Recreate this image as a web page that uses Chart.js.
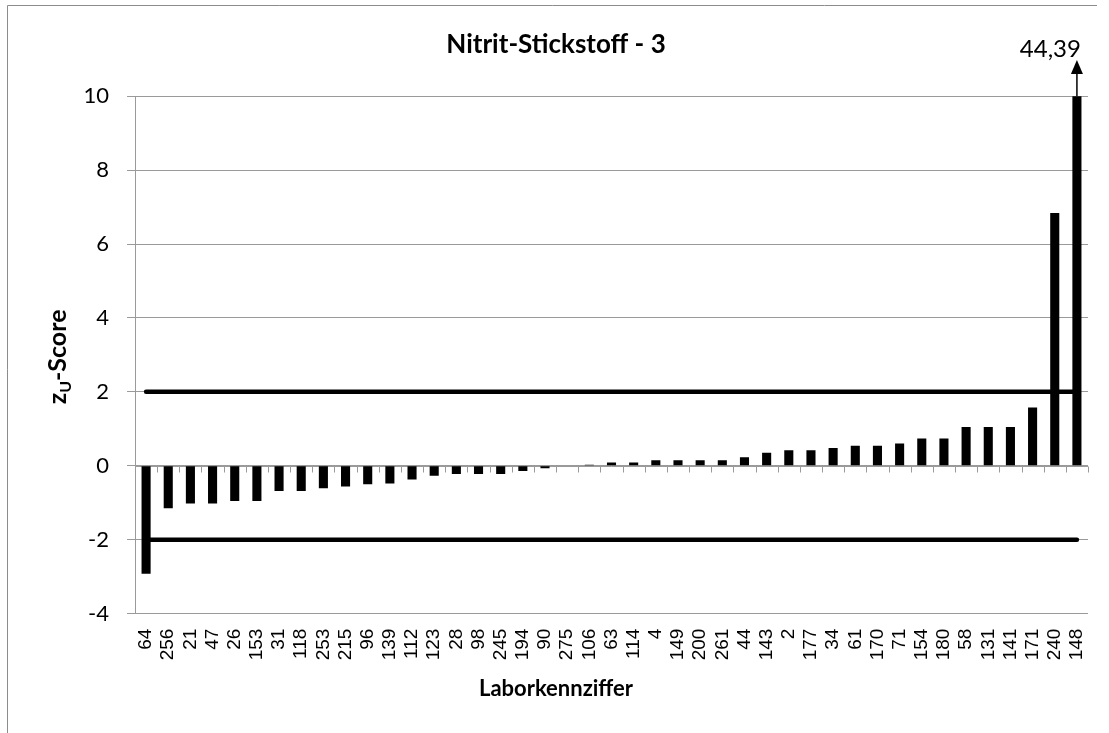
<!DOCTYPE html>
<html>
<head>
<meta charset="utf-8">
<script src="https://cdn.jsdelivr.net/npm/chart.js@4/dist/chart.umd.min.js"></script>
<style>
  html, body { margin: 0; padding: 0; background: #fff; }
  #wrap { width: 1109px; height: 733px; }
</style>
</head>
<body>
<div id="wrap"><canvas id="chart" width="1109" height="733"></canvas></div>
<script>
// Laborkennziffern, sortiert nach z_U-Score
const labs = ['64', '256', '21', '47', '26', '153', '31', '118', '253', '215', '96', '139', '112', '123',
  '28', '98', '245', '194', '90', '275', '106', '63', '114', '4', '149', '200', '261', '44', '143',
  '2', '177', '34', '61', '170', '71', '154', '180', '58', '131', '141', '171', '240', '148'];
const zScores = [-2.92, -1.15, -1.02, -1.02, -0.95, -0.95, -0.68, -0.68, -0.61, -0.56, -0.50, -0.48, -0.37, -0.27,
  -0.22, -0.22, -0.22, -0.14, -0.07, -0.01, 0.03, 0.09, 0.09, 0.15, 0.15, 0.15, 0.15, 0.23, 0.35,
  0.42, 0.42, 0.48, 0.54, 0.54, 0.60, 0.74, 0.74, 1.05, 1.05, 1.05, 1.58, 6.84, 44.39];
const upperLimit = 2;
const lowerLimit = -2;
const yTicks = [-4, -2, 0, 2, 4, 6, 8, 10];

const GRID = '#9a9a9a';
const CAL = 'Lato, "Open Sans", sans-serif';

// Rahmen, Nulllinie mit Teilstrichen, Achsentitel mit Index, Pfeil fuer den abgeschnittenen Balken
const extras = {
  id: 'extras',
  beforeDraw(chart) {
    const ctx = chart.ctx;
    ctx.save();
    ctx.strokeStyle = '#8c8c8c';
    ctx.lineWidth = 1;
    ctx.beginPath();
    ctx.moveTo(7.5, 733);
    ctx.lineTo(7.5, 5.5);
    ctx.lineTo(1097, 5.5);
    ctx.stroke();
    ctx.restore();
  },
  beforeDatasetsDraw(chart) {
    const ctx = chart.ctx;
    const xs = chart.scales.x;
    const y0 = Math.round(chart.scales.y.getPixelForValue(0)) + 0.5;
    ctx.save();
    ctx.strokeStyle = GRID;
    ctx.lineWidth = 1;
    ctx.beginPath();
    ctx.moveTo(xs.left, y0);
    ctx.lineTo(xs.right, y0);
    for (let i = 0; i <= labs.length; i++) {
      let x;
      if (i === 0) x = xs.left;
      else if (i === labs.length) x = xs.right;
      else x = (xs.getPixelForValue(i - 1) + xs.getPixelForValue(i)) / 2;
      x = Math.round(x) + 0.5;
      ctx.moveTo(x, y0);
      ctx.lineTo(x, y0 + 6);
    }
    ctx.stroke();
    ctx.restore();
  },
  afterDraw(chart) {
    const ctx = chart.ctx;
    const area = chart.chartArea;
    const xs = chart.scales.x;
    const ys = chart.scales.y;

    // y-Achsentitel "zU-Score"
    ctx.save();
    ctx.translate(66, (area.top + area.bottom) / 2 + 2);
    ctx.rotate(-Math.PI / 2);
    ctx.fillStyle = '#000';
    ctx.textBaseline = 'alphabetic';
    const big = 'bold 25px ' + CAL;
    const small = 'bold 16px ' + CAL;
    ctx.font = big;
    const wz = ctx.measureText('z').width;
    const wr = ctx.measureText('-Score').width;
    ctx.font = small;
    const wu = ctx.measureText('U').width;
    const x0 = -(wz + wu + wr) / 2;
    ctx.font = big;
    ctx.fillText('z', x0, 0);
    ctx.font = small;
    ctx.fillText('U', x0 + wz, 5);
    ctx.font = big;
    ctx.fillText('-Score', x0 + wz + wu, 0);
    ctx.restore();

    // Pfeil ueber dem letzten Balken
    const last = zScores.length - 1;
    if (zScores[last] > ys.max) {
      const bx = xs.getPixelForValue(last);
      ctx.save();
      ctx.strokeStyle = '#000';
      ctx.fillStyle = '#000';
      ctx.lineWidth = 1.5;
      ctx.beginPath();
      ctx.moveTo(bx, area.top);
      ctx.lineTo(bx, 72);
      ctx.stroke();
      ctx.beginPath();
      ctx.moveTo(bx, 60);
      ctx.lineTo(bx - 6, 74);
      ctx.lineTo(bx + 6, 74);
      ctx.closePath();
      ctx.fill();
      ctx.font = '24px ' + CAL;
      ctx.textAlign = 'right';
      ctx.textBaseline = 'alphabetic';
      ctx.fillText(String(zScores[last]).replace('.', ','), bx + 4, 57);
      ctx.restore();
    }
  }
};

new Chart(document.getElementById('chart'), {
  type: 'bar',
  data: {
    labels: labs,
    datasets: [
      {
        type: 'line',
        data: [{ x: labs[0], y: upperLimit }, { x: labs[labs.length - 1], y: upperLimit }],
        borderColor: '#000',
        borderWidth: 4.5,
        borderCapStyle: 'round',
        pointRadius: 0,
        order: 1
      },
      {
        type: 'line',
        data: [{ x: labs[0], y: lowerLimit }, { x: labs[labs.length - 1], y: lowerLimit }],
        borderColor: '#000',
        borderWidth: 4.5,
        borderCapStyle: 'round',
        pointRadius: 0,
        order: 1
      },
      {
        type: 'bar',
        data: zScores,
        backgroundColor: '#000',
        barPercentage: 0.41,
        categoryPercentage: 1,
        order: 2
      }
    ]
  },
  options: {
    responsive: false,
    animation: false,
    layout: { padding: { left: 24, right: 21, top: 0, bottom: 0 } },
    plugins: {
      legend: { display: false },
      tooltip: { enabled: false },
      title: {
        display: true,
        text: 'Nitrit-Stickstoff - 3',
        color: '#000',
        font: { family: CAL, size: 26, weight: 'bold' },
        padding: { top: 29, bottom: 36 }
      },
      subtitle: {
        display: true,
        position: 'bottom',
        text: 'Laborkennziffer',
        color: '#000',
        font: { family: CAL, size: 22, weight: 'bold' },
        padding: { top: 12, bottom: 31 }
      }
    },
    scales: {
      x: {
        type: 'category',
        offset: true,
        grid: { display: false, drawTicks: false },
        border: { display: false },
        ticks: {
          autoSkip: false,
          minRotation: 90,
          maxRotation: 90,
          padding: 15,
          color: '#000',
          font: { family: '"Liberation Sans", Arial, sans-serif', size: 19 }
        },
        afterFit(scale) {
          scale.height = 50;
          scale.paddingLeft = 0;
          scale.paddingRight = 0;
        }
      },
      y: {
        min: -4,
        max: 10,
        afterBuildTicks(scale) { scale.ticks = yTicks.map(v => ({ value: v })); },
        grid: { color: GRID, tickLength: 8 },
        border: { color: GRID },
        ticks: {
          padding: 18,
          color: '#000',
          font: { family: CAL, size: 22 }
        },
        afterFit(scale) { scale.width = 111; }
      }
    }
  },
  plugins: [extras]
});
</script>
</body>
</html>
